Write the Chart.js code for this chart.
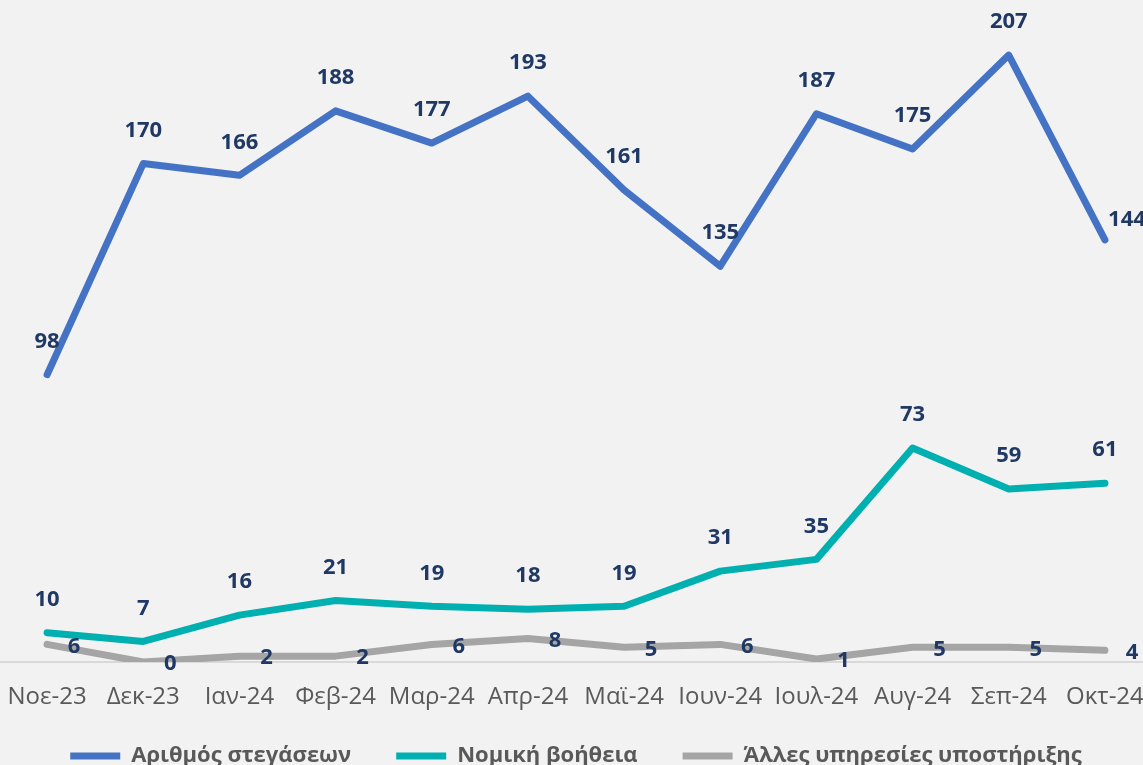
<!DOCTYPE html>
<html>
<head>
<meta charset="utf-8">
<script src="https://cdn.jsdelivr.net/npm/chart.js@4/dist/chart.umd.min.js"></script>
<style>
  html, body { margin: 0; padding: 0; background: #f2f2f2; overflow: hidden; width: 1143px; height: 765px; }
  #wrap { position: absolute; left: -10px; top: 0; width: 1173px; height: 789px; }
</style>
</head>
<body>
<div id="wrap"><canvas id="c"></canvas></div>
<script>
const categories = ["Νοε-23","Δεκ-23","Ιαν-24","Φεβ-24","Μαρ-24","Απρ-24","Μαϊ-24","Ιουν-24","Ιουλ-24","Αυγ-24","Σεπ-24","Οκτ-24"];
const housing = [98,170,166,188,177,193,161,135,187,175,207,144];
const legalAid = [10,7,16,21,19,18,19,31,35,73,59,61];
const otherServices = [6,0,2,2,6,8,5,6,1,5,5,4];
const seriesNames = ["Αριθμός στεγάσεων","Νομική βοήθεια","Άλλες υπηρεσίες υποστήριξης"];

const labelFont = 'bold 22px "Open Sans", "DejaVu Sans", sans-serif';
const valueLabels = {
  id: 'valueLabels',
  afterDatasetsDraw(chart) {
    const ctx = chart.ctx;
    ctx.save();
    ctx.font = labelFont;
    ctx.fillStyle = '#1f3864';
    ctx.textAlign = 'center';
    ctx.textBaseline = 'middle';
    chart.data.datasets.forEach((ds, di) => {
      const meta = chart.getDatasetMeta(di);
      meta.data.forEach((pt, i) => {
        let dx = 0, dy = -33;
        if (ds.labelPos === 'right') { dx = 27; dy = 2; }
        if (di === 0 && i === ds.data.length - 1) { dx = 22; dy = -20; }
        ctx.fillText(String(ds.data[i]), pt.x + dx, pt.y + dy);
      });
    });
    ctx.restore();
  }
};

const legendShift = {
  id: 'legendShift',
  afterLayout(chart) {
    if (chart.legend) { chart.legend.top -= 12; chart.legend.bottom -= 12; }
  }
};

new Chart(document.getElementById('c'), {
  type: 'line',
  data: {
    labels: categories,
    datasets: [
      { label: seriesNames[0], data: housing, borderColor: '#4472c4', backgroundColor: '#4472c4', borderWidth: 7, borderCapStyle: 'round', borderJoinStyle: 'round', pointRadius: 0, labelPos: 'above' },
      { label: seriesNames[1], data: legalAid, borderColor: '#00b0b0', backgroundColor: '#00b0b0', borderWidth: 7, borderCapStyle: 'round', borderJoinStyle: 'round', pointRadius: 0, labelPos: 'above' },
      { label: seriesNames[2], data: otherServices, borderColor: '#a5a5a5', backgroundColor: '#a5a5a5', borderWidth: 7, borderCapStyle: 'round', borderJoinStyle: 'round', pointRadius: 0, labelPos: 'right' }
    ]
  },
  options: {
    responsive: true,
    maintainAspectRatio: false,
    animation: false,
    layout: { padding: { left: 9, right: 10, top: 17, bottom: 0 } },
    plugins: {
      legend: {
        position: 'bottom',
        labels: {
          usePointStyle: true,
          pointStyle: 'line',
          pointStyleWidth: 50,
          padding: 45,
          color: '#595959',
          font: { family: '"Open Sans", "DejaVu Sans", sans-serif', size: 22, weight: 'bold' }
        }
      },
      tooltip: { enabled: false }
    },
    scales: {
      x: {
        offset: true,
        grid: { display: false, drawTicks: false },
        border: { display: true, color: '#d9d9d9', width: 2 },
        ticks: { color: '#595959', padding: 21, maxRotation: 0, autoSkip: false, font: { family: '"Open Sans", "DejaVu Sans", sans-serif', size: 24 } },
        afterFit(scale) { scale.height = 50; scale.paddingLeft = 0; scale.paddingRight = 0; }
      },
      y: {
        display: false,
        min: 0,
        max: 220
      }
    }
  },
  plugins: [valueLabels, legendShift]
});
</script>
</body>
</html>
